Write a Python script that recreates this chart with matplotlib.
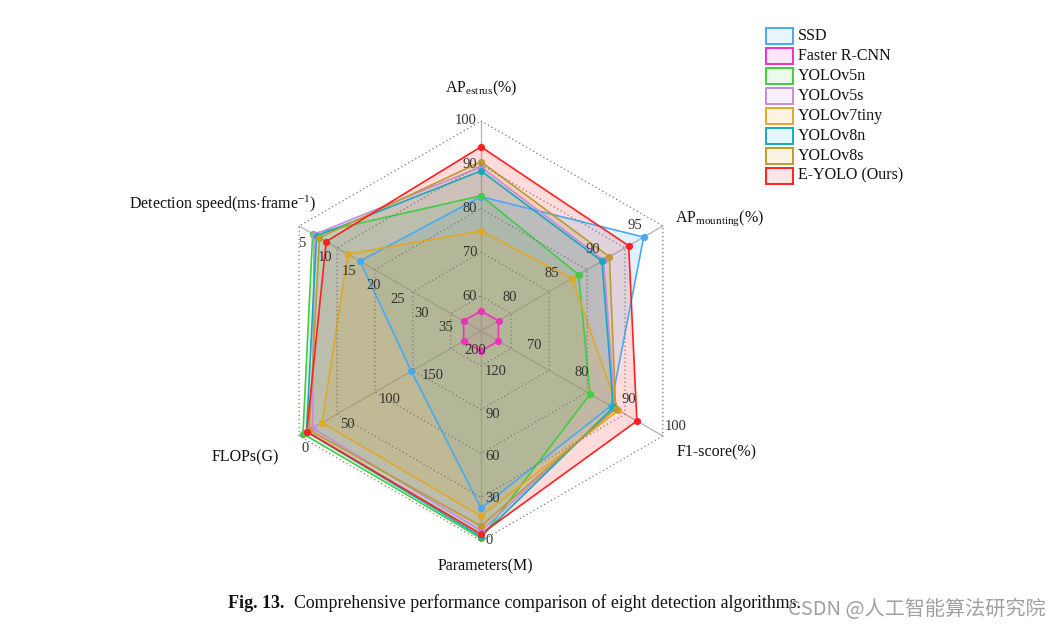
import numpy as np
import matplotlib
matplotlib.use("Agg")
import matplotlib.pyplot as plt
from matplotlib.patches import Rectangle, Polygon

plt.rcParams["font.family"] = ["Liberation Serif", "DejaVu Serif"]
plt.rcParams["mathtext.fontset"] = "custom"
plt.rcParams["mathtext.rm"] = "Liberation Serif"
plt.rcParams["mathtext.it"] = "Liberation Serif:italic"

# ---- data ----
models = ["SSD", "Faster R-CNN", "YOLOv5n", "YOLOv5s", "YOLOv7tiny", "YOLOv8n", "YOLOv8s", "E-YOLO (Ours)"]
ap_estrus = [82.7, 56.6, 82.9, 89.5, 74.9, 88.6, 90.7, 94.1]
ap_mounting = [95.2, 77.8, 87.4, 90.4, 86.6, 90.2, 91.1, 93.4]
f1_score = [89.0, 65.2, 84.6, 89.8, 90.6, 89.5, 90.0, 94.5]
params_m = [23.3, 134.8, 1.9, 7.2, 17.6, 3.2, 10.6, 4.9]
flops_g = [132.0, 193.6, 4.5, 15.8, 27.0, 8.7, 12.0, 9.0]
speed_ms = [15.7, 37.2, 5.9, 6.2, 13.2, 6.7, 7.3, 8.7]

line_colors = ["#4aaaf0", "#ee33bb", "#44cc44", "#c58be0", "#e0a828", "#18aabb", "#bf9a30", "#ff2020"]
legend_fill = ["#eaf4fd", "#ffe6f7", "#eafbea", "#f8eefd", "#fdf3e3", "#e5f7fa", "#f8f3e2", "#ffe5e5"]
# stacking order of the translucent fills (bottom first)
fill_order = [7, 0, 1, 2, 3, 5, 4, 6]

# axis: (name, value at centre, value at outer ring, tick values)
axes_spec = [
    ("estrus", 52.0, 100.0, [60, 70, 80, 90, 100]),
    ("mounting", 75.7, 97.5, [80, 85, 90, 95]),
    ("f1", 61.5, 100.0, [70, 80, 90, 100]),
    ("params", 149.0, 0.0, [0, 30, 60, 90, 120]),
    ("flops", 214.0, 0.0, [0, 50, 100, 150, 200]),
    ("speed", 40.8, 3.1, [5, 10, 15, 20, 25, 30, 35]),
]
series_values = [ap_estrus, ap_mounting, f1_score, params_m, flops_g, speed_ms]

# ---- geometry (pixel space) ----
W, H = 1062, 631
cx, cy = 481.0, 331.0
R = 210.0
angles = np.deg2rad([90, 30, -30, -90, -150, 150])


def to_xy(r, ang):
    return cx + r * np.cos(ang), cy - r * np.sin(ang)


def radius(v, spec):
    _, c, o, _ = spec
    return R * (v - c) / (o - c)


fig = plt.figure(figsize=(W / 100, H / 100), dpi=100)
ax = fig.add_axes([0, 0, 1, 1])
ax.set_xlim(0, W)
ax.set_ylim(H, 0)
ax.axis("off")

# rings + spokes
for rr in [35.0, 78.75, 122.5, 166.25, 210.0]:
    xs, ys = to_xy(rr, np.append(angles, angles[0]))
    ax.plot(xs, ys, color="#7a7a7a", lw=0.9, ls=(0, (1, 2.2)), zorder=30)
for ang in angles:
    x1, y1 = to_xy(R, ang)
    ax.plot([cx, x1], [cy, y1], color="#b8b8b8", lw=1.0, zorder=1)

# series
for i, name in enumerate(models):
    rs = np.array([radius(series_values[k][i], axes_spec[k]) for k in range(6)])
    xs, ys = to_xy(rs, angles)
    ax.add_patch(Polygon(np.column_stack([xs, ys]), closed=True, facecolor=line_colors[i],
                         alpha=0.16, edgecolor="none", zorder=2 + fill_order.index(i)))
    ax.plot(np.append(xs, xs[0]), np.append(ys, ys[0]), color=line_colors[i], lw=1.2, zorder=12 + i)
    ax.plot(xs, ys, "o", color=line_colors[i], ms=4.2, mec=line_colors[i], zorder=22 + i)

# tick labels
tick_kw = dict(fontsize=10.5, color="#333333", zorder=40)
offsets = [(-4, 0, "right"), (-7, -12.5, "center"), (13, -9, "center"),
           (4, 0, "left"), (6, 13, "center"), (-7, 12.5, "center")]
for k, spec in enumerate(axes_spec):
    dx, dy, ha = offsets[k]
    for t in spec[3]:
        x, y = to_xy(radius(t, spec), angles[k])
        ax.text(x + dx, y + dy, f"{t}", ha=ha, va="center", **tick_kw)

# axis titles
title_kw = dict(fontsize=11.5, color="#111111", zorder=40)
ax.text(481, 92, r"AP$_{\mathrm{estrus}}$(%)", ha="center", va="baseline", **title_kw)
ax.text(675, 222, r"AP$_{\mathrm{mounting}}$(%)", ha="left", va="baseline", **title_kw)
ax.text(677, 452, "F1-score(%)", ha="left", va="center", **title_kw)
ax.text(485, 566, "Parameters(M)", ha="center", va="center", **title_kw)
ax.text(245, 457, "FLOPs(G)", ha="center", va="center", **title_kw)
ax.text(316, 209, r"Detection speed(ms$\cdot$frame$^{\mathrm{-1}}$)", ha="right", va="baseline", **title_kw)

# legend
for i, name in enumerate(models):
    yc = 35.7 + 20 * i
    ax.add_patch(Rectangle((766, yc - 8), 27, 16, facecolor=legend_fill[i], edgecolor=line_colors[i],
                           lw=1.4, zorder=40))
    ax.text(798, yc, name, ha="left", va="center", fontsize=11.5, color="#111111", zorder=41)

# caption
ax.text(228, 603, "Fig. 13.", ha="left", va="center", fontsize=13, fontweight="bold", color="#111111")
ax.text(294, 603, "Comprehensive performance comparison of eight detection algorithms.",
        ha="left", va="center", fontsize=12.8, color="#111111")
ax.text(1046, 609, "CSDN @人工智能算法研究院", ha="right", va="center", fontsize=14.5,
        color="#a0a0a0", family=["Noto Sans CJK SC", "DejaVu Sans"], zorder=50)

fig.savefig("out.png", dpi=100)
